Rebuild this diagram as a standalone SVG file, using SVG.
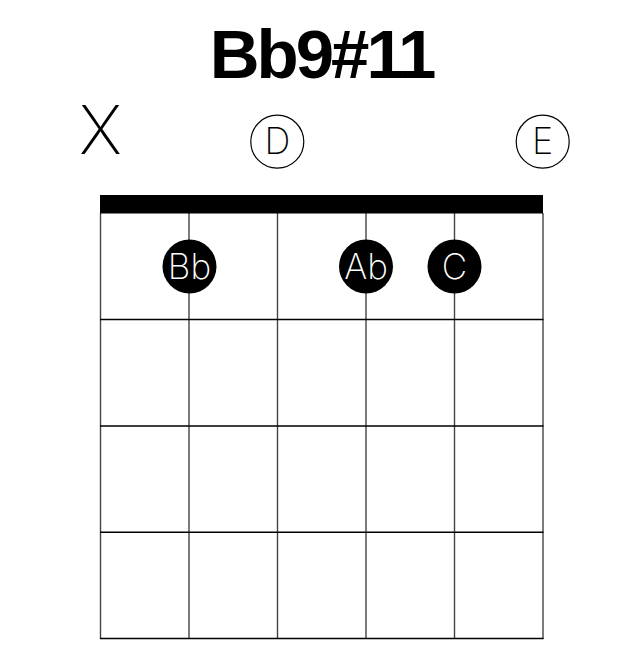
<svg xmlns="http://www.w3.org/2000/svg" width="644" height="656" viewBox="0 0 644 656">
<style>
.title{font-family:"Liberation Sans",Arial,sans-serif;font-weight:bold;font-size:69px;letter-spacing:-3px;fill:#000}
.lt{font-family:Inter,"Noto Sans","Liberation Sans",sans-serif;font-weight:250;fill:#000}
.str{stroke:#444;stroke-width:1.4}
.fret{stroke:#000;stroke-width:1.5}
.open{fill:#fff;stroke:#000;stroke-width:1.2}
.dot{fill:#000}
.dt{font-family:Inter,"Noto Sans","Liberation Sans",sans-serif;font-weight:250;font-size:35px;fill:#fff}
</style>
<rect width="644" height="656" fill="#fff"/>
<text class="title" x="321.5" y="78" text-anchor="middle">Bb9#11</text>
<g id="grid">
<line class="str" x1="100.5" y1="213" x2="100.5" y2="639"/>
<line class="str" x1="189" y1="213" x2="189" y2="639"/>
<line class="str" x1="277.5" y1="213" x2="277.5" y2="639"/>
<line class="str" x1="366" y1="213" x2="366" y2="639"/>
<line class="str" x1="454.5" y1="213" x2="454.5" y2="639"/>
<line class="str" x1="543" y1="213" x2="543" y2="639"/>
<line class="fret" x1="100" y1="319.6" x2="543.5" y2="319.6"/>
<line class="fret" x1="100" y1="426" x2="543.5" y2="426"/>
<line class="fret" x1="100" y1="532.3" x2="543.5" y2="532.3"/>
<line class="fret" x1="100" y1="638.5" x2="543.5" y2="638.5"/>
<rect id="nut" x="100" y="195" width="443" height="18.5" fill="#000"/>
</g>
<g id="mute">
<text class="lt" x="100.5" y="154" font-size="67" text-anchor="middle">X</text>
</g>
<g id="open-D">
<circle class="open" cx="277.3" cy="141.7" r="26.5"/>
<text class="lt" x="277.3" y="154" font-size="36" text-anchor="middle">D</text>
</g>
<g id="open-E">
<circle class="open" cx="542.7" cy="141.7" r="26.5"/>
<text class="lt" x="542.7" y="154" font-size="36" text-anchor="middle">E</text>
</g>
<g id="finger-Bb">
<circle class="dot" cx="189.5" cy="266.5" r="27"/>
<text class="dt" x="189.5" y="279" text-anchor="middle">Bb</text>
</g>
<g id="finger-Ab">
<circle class="dot" cx="366" cy="266.5" r="27"/>
<text class="dt" x="366" y="279" text-anchor="middle">Ab</text>
</g>
<g id="finger-C">
<circle class="dot" cx="454.5" cy="266.5" r="27"/>
<text class="dt" x="454.5" y="279" text-anchor="middle">C</text>
</g>
</svg>
